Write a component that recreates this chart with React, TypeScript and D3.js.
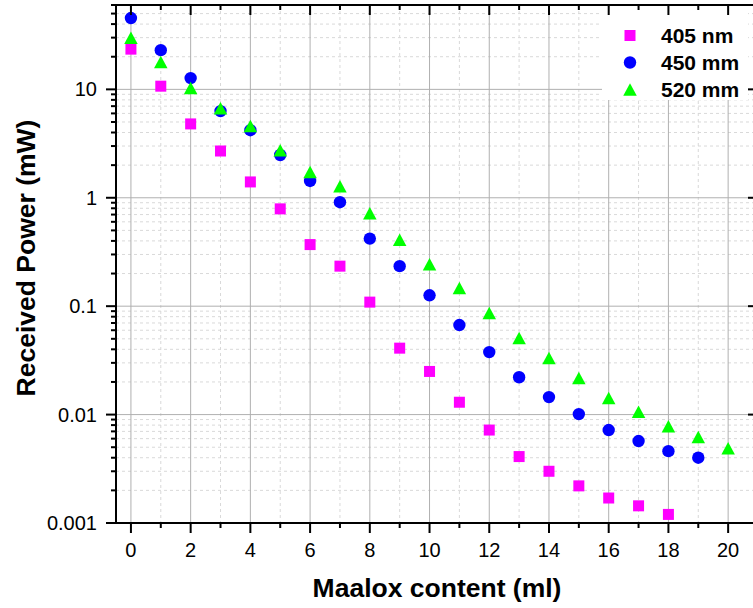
import React from "react";
import * as d3 from "d3";

const xValues = [0, 1, 2, 3, 4, 5, 6, 7, 8, 9, 10, 11, 12, 13, 14, 15, 16, 17, 18, 19, 20];
const s405 = [23.5, 10.7, 4.8, 2.7, 1.4, 0.79, 0.37, 0.234, 0.109, 0.041, 0.025, 0.013, 0.0072, 0.0041, 0.003, 0.0022, 0.0017, 0.00144, 0.0012];
const s450 = [45.5, 23, 12.7, 6.3, 4.2, 2.48, 1.43, 0.91, 0.42, 0.234, 0.126, 0.067, 0.0377, 0.0221, 0.0145, 0.0101, 0.0072, 0.0057, 0.0046, 0.004];
const s520 = [30, 17.9, 10.3, 6.7, 4.6, 2.75, 1.73, 1.28, 0.72, 0.41, 0.244, 0.147, 0.0865, 0.0508, 0.0333, 0.0217, 0.0142, 0.0106, 0.0078, 0.0062, 0.0049];
const legendLabels = ["405 nm", "450 mm", "520 mm"];
const xTickLabels = [0, 2, 4, 6, 8, 10, 12, 14, 16, 18, 20];
const yTickValues = [0.001, 0.01, 0.1, 1, 10];
const yTickLabels = ["0.001", "0.01", "0.1", "1", "10"];
const colors = ["#ff00ff", "#0000ff", "#00ff00"];

const W = 753, H = 608;
const L = 116, R = 758, T = 5, B = 523;
const FONT = "'Liberation Sans', Arial, Helvetica, sans-serif";

function marker(kind: number, cx: number, cy: number, color: string, key: string) {
  if (kind === 0) {
    const s = 11;
    return <rect key={key} x={cx - s / 2} y={cy - s / 2} width={s} height={s} fill={color} />;
  }
  if (kind === 1) {
    return <circle key={key} cx={cx} cy={cy} r={6.2} fill={color} />;
  }
  const w = 13.5, h = 12.5;
  const p = `M${cx},${cy - h / 2}L${cx + w / 2},${cy + h / 2}L${cx - w / 2},${cy + h / 2}Z`;
  return <path key={key} d={p} fill={color} />;
}

export default function App() {
  const x = d3.scaleLinear().domain([-0.5, 21]).range([L, R]);
  const y = d3.scaleLog().domain([0.001, 60]).range([B, T]);

  const minorY: number[] = [];
  for (let e = -3; e <= 1; e++) {
    for (let m = 2; m <= 9; m++) {
      const v = m * Math.pow(10, e);
      if (v <= 60) minorY.push(v);
    }
  }
  const majorX = d3.range(0, 21, 2);
  const minorX = d3.range(1, 20, 2);
  const series = [s405, s450, s520];

  return (
    <svg width={W} height={H} style={{ position: "absolute", left: 0, top: 0, background: "#fff" }} fontFamily={FONT}>
      <rect x={0} y={0} width={W} height={H} fill="#fff" />
      {minorY.map((v, i) => (
        <line key={"my" + i} x1={L} x2={R} y1={y(v)} y2={y(v)} stroke="#d9d9d9" strokeWidth={1} strokeDasharray="3,3" />
      ))}
      {minorX.map((v, i) => (
        <line key={"mx" + i} x1={x(v)} x2={x(v)} y1={T} y2={B} stroke="#d9d9d9" strokeWidth={1} strokeDasharray="3,3" />
      ))}
      {yTickValues.map((v, i) => (
        <line key={"gy" + i} x1={L} x2={R} y1={y(v)} y2={y(v)} stroke="#b0b0b0" strokeWidth={1} />
      ))}
      {majorX.map((v, i) => (
        <line key={"gx" + i} x1={x(v)} x2={x(v)} y1={T} y2={B} stroke="#b0b0b0" strokeWidth={1} />
      ))}
      {series.map((s, k) =>
        s.map((v, i) => marker(k, x(xValues[i]), y(v), colors[k], `p${k}-${i}`))
      )}
      <rect x={602} y={8} width={146} height={92} fill="#fff" />
      {legendLabels.map((lab, i) => {
        const cy = 35.5 + i * 27;
        return (
          <g key={"lg" + i}>
            {marker(i, 630, cy, colors[i], "lm" + i)}
            <text x={661} y={cy + 7.5} fontSize={21} fontWeight="bold" fill="#000">{lab}</text>
          </g>
        );
      })}
      <line x1={L} x2={R} y1={B} y2={B} stroke="#000" strokeWidth={2} />
      <line x1={L} x2={R} y1={T} y2={T} stroke="#000" strokeWidth={2} />
      <line x1={L} x2={L} y1={T - 1} y2={B + 1} stroke="#000" strokeWidth={2} />
      <line x1={R} x2={R} y1={T - 1} y2={B + 1} stroke="#000" strokeWidth={2} />
      {majorX.map((v, i) => (
        <g key={"xt" + i}>
          <line x1={x(v)} x2={x(v)} y1={B} y2={B + 10} stroke="#000" strokeWidth={2} />
          <line x1={x(v)} x2={x(v)} y1={T} y2={T + 10} stroke="#000" strokeWidth={2} />
        </g>
      ))}
      {minorX.map((v, i) => (
        <g key={"xm" + i}>
          <line x1={x(v)} x2={x(v)} y1={B} y2={B + 5} stroke="#000" strokeWidth={2} />
          <line x1={x(v)} x2={x(v)} y1={T} y2={T + 5} stroke="#000" strokeWidth={2} />
        </g>
      ))}
      {xTickLabels.map((v, i) => (
        <text key={"xl" + i} x={x(v)} y={557} fontSize={20} textAnchor="middle" fill="#000">{v}</text>
      ))}
      {yTickValues.map((v, i) => (
        <g key={"yt" + i}>
          <line x1={L - 10} x2={L} y1={y(v)} y2={y(v)} stroke="#000" strokeWidth={2} />
          <line x1={R - 10} x2={R} y1={y(v)} y2={y(v)} stroke="#000" strokeWidth={2} />
          <text x={97} y={y(v) + 7} fontSize={20} textAnchor="end" fill="#000">{yTickLabels[i]}</text>
        </g>
      ))}
      {minorY.map((v, i) => (
        <line key={"ym" + i} x1={L - 5} x2={L} y1={y(v)} y2={y(v)} stroke="#000" strokeWidth={2} />
      ))}
      <text x={(L + R) / 2} y={597} fontSize={26.5} fontWeight="bold" textAnchor="middle" fill="#000">Maalox content (ml)</text>
      <text transform={`translate(35,258) rotate(-90)`} fontSize={26.5} fontWeight="bold" textAnchor="middle" fill="#000">Received Power (mW)</text>
    </svg>
  );
}
